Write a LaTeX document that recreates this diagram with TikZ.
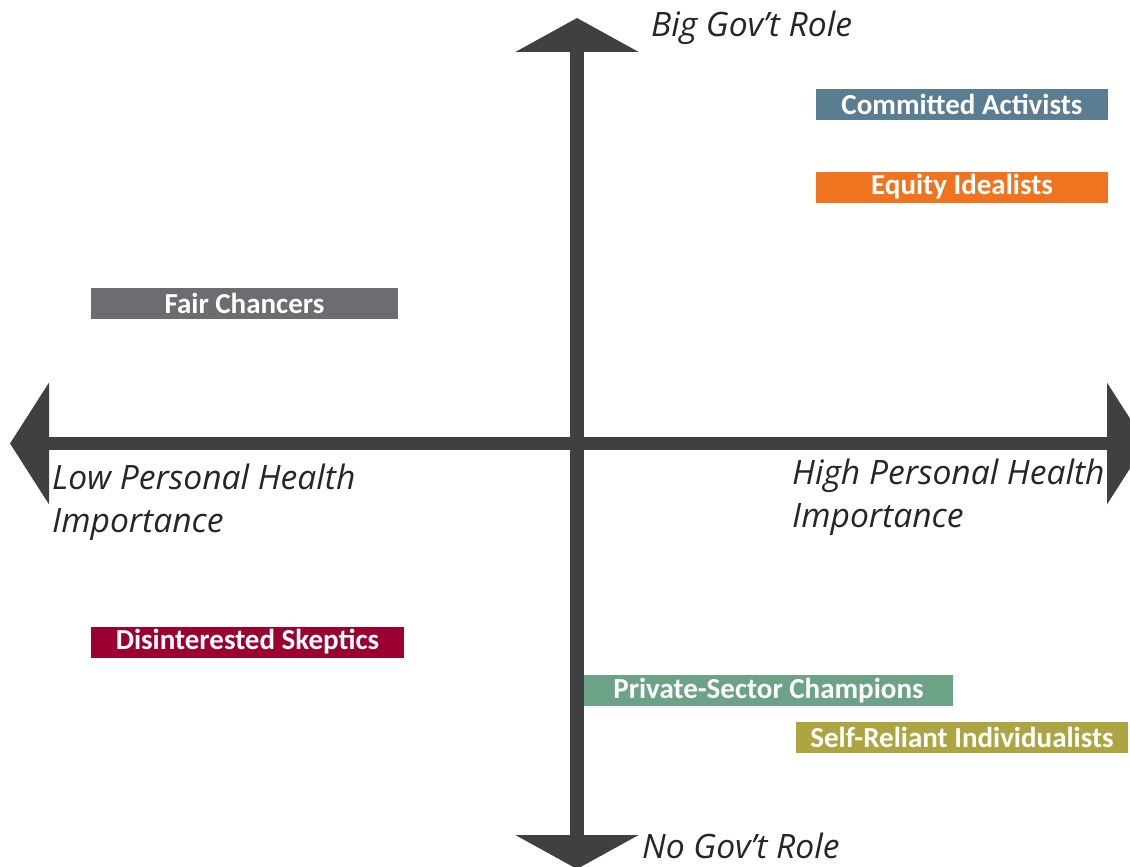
\documentclass[tikz,border=0pt]{standalone}
\usepackage{fontspec}
\setmainfont{Carlito}
\newfontfamily\axisfont{Open Sans}
\usetikzlibrary{arrows.meta}
\definecolor{axisgray}{HTML}{404040}
\definecolor{activblue}{HTML}{5A7D92}
\definecolor{idealorange}{HTML}{F07320}
\definecolor{chancegray}{HTML}{6D6C71}
\definecolor{skepred}{HTML}{9B0030}
\definecolor{champgreen}{HTML}{6CA386}
\definecolor{relyolive}{HTML}{ADA542}

\begin{document}
\begin{tikzpicture}[x=1pt,y=-1pt,
  axis/.style={line width=13.5pt,color=axisgray},
  seg/.style={fill=#1,text=white,inner sep=0pt,minimum height=31pt,
    font=\fontsize{29}{32}\selectfont\bfseries},
  axlabel/.style={inner sep=0pt,align=left,text=black!85,
    font=\axisfont\fontsize{33.6}{43}\selectfont\itshape}]
\useasboundingbox (0,0) rectangle (1130,867);
\coordinate (top) at (577,18);\coordinate (bottom) at (577,869);
\coordinate (left) at (10,443.5);\coordinate (right) at (1146,443.5);
\draw[axis,{Triangle[width=122pt,length=34pt]}-{Triangle[width=122pt,length=34pt]}](bottom)--(top);
\draw[axis,{Triangle[width=120pt,length=39pt]}-{Triangle[width=120pt,length=39pt]}](left)--(right);
\node[axlabel,anchor=base west](bigrole) at (651,37){Big Gov’t Role};
\node[axlabel,anchor=base west](norole) at (642,858){No Gov’t Role};
\node[axlabel,anchor=base west](lowimp) at (52,532){Low Personal Health\\Importance};
\node[axlabel,anchor=base west](highimp) at (792,527){High Personal Health\\Importance};
\node[seg=activblue,minimum width=292pt](activists) at (962,104.5){Committed Activists};
\node[seg=idealorange,minimum width=292pt](idealists) at (962,187){Equity Idealists};
\node[seg=chancegray,minimum width=307pt](chancers) at (244.5,303.5){Fair Chancers};
\node[seg=skepred,minimum width=313pt](skeptics) at (247.5,642){Disinterested Skeptics};
\node[seg=champgreen,minimum width=369pt](champions) at (768.5,690.5){Private-Sector Champions};
\node[seg=relyolive,minimum width=332pt](individualists) at (962,737.5){Self-Reliant Individualists};
\end{tikzpicture}
\end{document}
